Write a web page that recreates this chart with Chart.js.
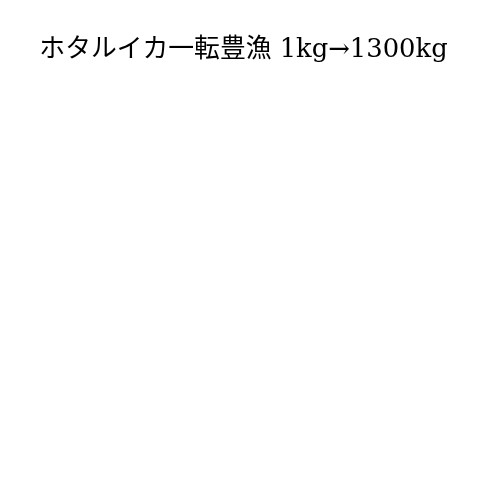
<!DOCTYPE html>
<html>
<head>
<meta charset="utf-8">
<script src="https://cdn.jsdelivr.net/npm/chart.js@4/dist/chart.umd.min.js"></script>
<style>
  html, body { margin: 0; padding: 0; background: #fff; }
  #wrap { width: 500px; height: 500px; }
</style>
</head>
<body>
<div id="wrap"><canvas id="chart"></canvas></div>
<script>
// the reference shows only the title, no marks
const titleText = 'ホタルイカ一転豊漁 1kg→1300kg';
const categories = [];
const catchKg = [];

const ctx = document.getElementById('chart').getContext('2d');
new Chart(ctx, {
  type: 'bar',
  data: {
    labels: categories,
    datasets: [
      {
        label: '漁獲量',
        data: catchKg,
        backgroundColor: '#4a7bd0',
      },
    ],
  },
  options: {
    responsive: true,
    maintainAspectRatio: false,
    animation: false,
    layout: { padding: { right: 13 } },
    plugins: {
      legend: { display: false },
      tooltip: { enabled: false },
      title: {
        display: true,
        text: titleText,
        color: '#000',
        font: {
          family: '"DejaVu Serif", "Noto Sans CJK JP", serif',
          size: 25.8,
          weight: 'normal',
        },
        padding: { top: 35, bottom: 10 },
      },
    },
    scales: {
      x: { display: false },
      y: { display: false },
    },
  },
});
</script>
</body>
</html>
